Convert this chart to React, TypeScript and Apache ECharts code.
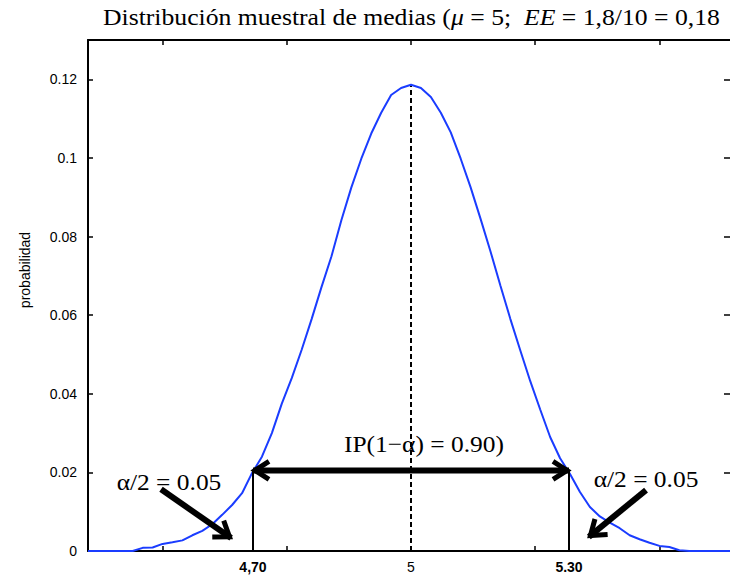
import React, { useEffect, useRef } from "react";
import * as echarts from "echarts";

// ---- data ----
const xValues = [
  4.35, 4.36, 4.38, 4.4, 4.42, 4.44, 4.46, 4.48, 4.5, 4.52, 4.54, 4.56, 4.58, 4.6, 4.62, 4.64, 4.66,
  4.68, 4.7, 4.72, 4.74, 4.76, 4.78, 4.8, 4.82, 4.84, 4.86, 4.88, 4.9, 4.92, 4.94, 4.96, 4.98, 5.0,
  5.02, 5.04, 5.06, 5.08, 5.1, 5.12, 5.14, 5.16, 5.18, 5.2, 5.22, 5.24, 5.26, 5.28, 5.3, 5.32, 5.34,
  5.36, 5.38, 5.4, 5.42, 5.44, 5.46, 5.48, 5.5, 5.52, 5.54, 5.56, 5.58, 5.6, 5.62, 5.65,
];
const probValues = [
  0, 0, 0, 0, 0, 0, 0.0008, 0.0009, 0.0018, 0.0022, 0.0027, 0.004, 0.0051, 0.0068, 0.0092, 0.0117, 0.0147,
  0.0198, 0.024, 0.03, 0.0375, 0.044, 0.0512, 0.059, 0.0672, 0.075, 0.0842, 0.0925, 0.0998, 0.1062, 0.1115, 0.116, 0.1178, 0.1186,
  0.1178, 0.1155, 0.1115, 0.1065, 0.0998, 0.0925, 0.0845, 0.0762, 0.0675, 0.059, 0.051, 0.0432, 0.036, 0.029, 0.0236, 0.0196, 0.015,
  0.0112, 0.0088, 0.0072, 0.0058, 0.004, 0.003, 0.0021, 0.0013, 0.001, 0.0002, 0, 0, 0, 0, 0,
];
const yTicks = [0, 0.02, 0.04, 0.06, 0.08, 0.1, 0.12];
const xTicks = [4.5, 4.75, 5, 5.25, 5.5];
const xLabelValues = [4.682, 5, 5.318];
const xLabelTexts = ["4,70", "5", "5.30"];
const xLabelBold = [true, false, true];
const meanValue = 5;
const peakValue = 0.1186;
const limitValues = [4.682, 5.318];
const limitHeight = 0.0205;
const titleParts = ["Distribución muestral de medias (", "μ", " = 5;  ", "EE", " = 1,8/10 = 0,18"];
const yName = "probabilidad";
const ipText = "IP(1−α) = 0.90)";
const tailText = "α/2 = 0.05";
// annotations in data coordinates: [x, y]
const textPositions = [
  [5.026, 0.0272],
  [4.513, 0.0175],
  [5.473, 0.0184],
];
const textLabels = [ipText, tailText, tailText];
// arrows: [x0, y0, x1, y1, doubleHeaded]
const arrows = [
  [4.682, 0.0205, 5.318, 0.0205, 1],
  [4.497, 0.0157, 4.638, 0.0033, 0],
  [5.473, 0.0155, 5.358, 0.0036, 0],
];

const SERIF = "'Liberation Serif', 'Times New Roman', serif";
const SANS = "'Liberation Sans', Arial, Helvetica, sans-serif";

function chevron(tip: number[], from: number[], len: number, half: number) {
  const dx = tip[0] - from[0];
  const dy = tip[1] - from[1];
  const L = Math.hypot(dx, dy) || 1;
  const ux = dx / L;
  const uy = dy / L;
  const bx = tip[0] - ux * len;
  const by = tip[1] - uy * len;
  return [
    [bx - uy * half, by + ux * half],
    [tip[0] - ux * 2, tip[1] - uy * 2],
    [bx + uy * half, by - ux * half],
  ];
}

export default function App() {
  const ref = useRef<HTMLDivElement>(null);
  useEffect(() => {
    if (!ref.current) return;
    const chart = echarts.init(ref.current, undefined, { renderer: "svg" });
    const axisLine = { show: true, onZero: false, lineStyle: { color: "#000", width: 2 } };
    const option: any = {
      animation: false,
      backgroundColor: "#fff",
      graphic: [
        {
          type: "text",
          x: 103,
          y: 5,
          scaleX: 1.07,
          style: {
            text:
              "{n|" + titleParts[0] + "}{i|" + titleParts[1] + "}{n|" + titleParts[2] + "}{i|" + titleParts[3] + "}{n|" + titleParts[4] + "}",
            rich: {
              n: { fontFamily: SERIF, fontSize: 24, fontWeight: "normal", fill: "#000" },
              i: { fontFamily: SERIF, fontSize: 24, fontStyle: "italic", fontWeight: "normal", fill: "#000" },
            },
          },
        },
        {
          type: "text",
          x: 25,
          y: 270,
          rotation: Math.PI / 2,
          style: {
            text: yName,
            fontFamily: SANS,
            fontSize: 14,
            fill: "#000",
            align: "center",
            verticalAlign: "middle",
          },
        },
      ],
      grid: { left: 88, right: -4, top: 40, bottom: 26, containLabel: false, outerBoundsMode: "none" },
      xAxis: [
        {
          type: "value",
          min: 4.35,
          max: 5.65,
          position: "bottom",
          axisLine,
          axisTick: { show: true, inside: true, length: 5, customValues: xTicks, lineStyle: { color: "#000", width: 1.5 } },
          axisLabel: {
            show: true,
            margin: 9,
            customValues: xLabelValues,
            formatter: (v: number) => {
              let idx = 0;
              let best = Infinity;
              xLabelValues.forEach((xv, i) => {
                if (Math.abs(xv - v) < best) {
                  best = Math.abs(xv - v);
                  idx = i;
                }
              });
              return (xLabelBold[idx] ? "{b|" : "{r|") + xLabelTexts[idx] + "}";
            },
            rich: {
              b: { fontFamily: SANS, fontSize: 14, fontWeight: "bold", color: "#000" },
              r: { fontFamily: SANS, fontSize: 14, color: "#000" },
            },
          },
          splitLine: { show: false },
        },
        {
          type: "value",
          min: 4.35,
          max: 5.65,
          position: "top",
          axisLine,
          axisTick: { show: true, inside: true, length: 5, customValues: xTicks, lineStyle: { color: "#000", width: 1.5 } },
          axisLabel: { show: false },
          splitLine: { show: false },
        },
      ],
      yAxis: [
        {
          type: "value",
          min: 0,
          max: 0.13,
          position: "left",
          axisLine,
          axisTick: { show: true, inside: true, length: 5, customValues: yTicks, lineStyle: { color: "#000", width: 1.5 } },
          axisLabel: {
            show: true,
            margin: 11,
            customValues: yTicks,
            formatter: (v: number) => String(Math.round(v * 100) / 100),
            fontFamily: SANS,
            fontSize: 14,
            color: "#000",
          },
          splitLine: { show: false },
        },
        {
          type: "value",
          min: 0,
          max: 0.13,
          position: "right",
          axisLine,
          axisTick: { show: true, inside: true, length: 10, customValues: yTicks, lineStyle: { color: "#000", width: 1.5 } },
          axisLabel: { show: false },
          splitLine: { show: false },
        },
      ],
      series: [
        {
          type: "line",
          data: xValues.map((x, i) => [x, probValues[i]]),
          showSymbol: false,
          symbol: "none",
          lineStyle: { color: "#1a3cff", width: 2 },
          z: 3,
        },
        {
          type: "line",
          data: [
            [meanValue, 0],
            [meanValue, peakValue],
          ],
          symbol: "none",
          lineStyle: { color: "#000", width: 2, type: [5, 3] },
          z: 2,
        },
        {
          type: "custom",
          data: limitValues.map((x) => [x, limitHeight]),
          renderItem: (params: any, api: any) => {
            const x = api.value(0);
            const h = api.value(1);
            const p0 = api.coord([x, 0]);
            const p1 = api.coord([x, h]);
            return {
              type: "line",
              shape: { x1: p0[0], y1: p0[1], x2: p1[0], y2: p1[1] },
              style: { stroke: "#000", lineWidth: 2 },
            };
          },
          z: 4,
        },
        {
          type: "custom",
          data: arrows,
          renderItem: (params: any, api: any) => {
            const a = api.coord([api.value(0), api.value(1)]);
            const b = api.coord([api.value(2), api.value(3)]);
            const dbl = api.value(4) === 1;
            const children: any[] = [];
            children.push({
              type: "line",
              shape: { x1: a[0], y1: a[1], x2: b[0], y2: b[1] },
              style: { stroke: "#000", lineWidth: 6 },
            });
            const len = 16;
            const half = dbl ? 9 : 10;
            children.push({
              type: "polyline",
              shape: { points: chevron(b, a, len, half) },
              style: { stroke: "#000", lineWidth: 5, fill: "none", lineJoin: "miter" },
            });
            if (dbl) {
              children.push({
                type: "polyline",
                shape: { points: chevron(a, b, len, half) },
                style: { stroke: "#000", lineWidth: 5, fill: "none", lineJoin: "miter" },
              });
            }
            return { type: "group", children };
          },
          z: 5,
        },
        {
          type: "custom",
          data: textPositions,
          renderItem: (params: any, api: any) => {
            const p = api.coord([api.value(0), api.value(1)]);
            return {
              type: "text",
              x: p[0],
              y: p[1],
              scaleX: 1.06,
              style: {
                text: textLabels[params.dataIndex],
                fontFamily: SERIF,
                fontSize: 24,
                fill: "#000",
                align: "center",
                verticalAlign: "middle",
              },
            };
          },
          z: 6,
        },
      ],
    };
    chart.setOption(option);
    return () => chart.dispose();
  }, []);
  return (
    <div
      ref={ref}
      style={{ position: "absolute", left: 0, top: 0, width: 730, height: 577, background: "#fff" }}
    />
  );
}
